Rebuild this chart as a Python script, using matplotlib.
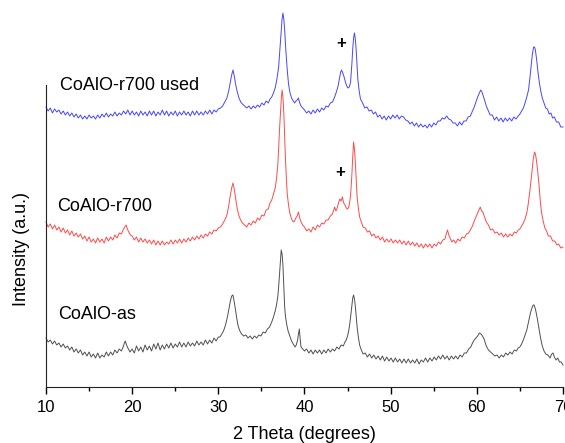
import matplotlib
matplotlib.use('Agg')
import matplotlib.pyplot as plt

plt.rcParams['font.family'] = ['Liberation Sans', 'DejaVu Sans']

# 2 Theta positions and intensities (a.u.) for each sample
used_x = [10.0, 10.25, 10.5, 10.75, 11.0, 11.25, 11.5, 11.75, 12.0, 12.25,
          12.5, 12.75, 13.0, 13.25, 13.5, 13.75, 14.0, 14.25, 14.5, 14.75,
          15.0, 15.25, 15.5, 15.75, 16.0, 16.25, 16.5, 16.75, 17.0, 17.25,
          17.5, 17.75, 18.0, 18.25, 18.5, 18.75, 19.0, 19.25, 19.5, 19.75,
          20.0, 20.25, 20.5, 20.75, 21.0, 21.25, 21.5, 21.75, 22.0, 22.25,
          22.5, 22.75, 23.0, 23.25, 23.5, 23.75, 24.0, 24.25, 24.5, 24.75,
          25.0, 25.25, 25.5, 25.75, 26.0, 26.25, 26.5, 26.75, 27.0, 27.25,
          27.5, 27.75, 28.0, 28.25, 28.5, 28.75, 29.0, 29.25, 29.5, 29.75,
          30.0, 30.25, 30.5, 30.75, 31.0, 31.2, 31.4, 31.55, 31.7, 31.85,
          32.0, 32.2, 32.4, 32.6, 32.8, 33.05, 33.3, 33.55, 33.8, 34.05,
          34.3, 34.55, 34.8, 35.05, 35.3, 35.55, 35.8, 36.0, 36.2, 36.4,
          36.6, 36.8, 37.0, 37.15, 37.3, 37.4, 37.5, 37.6, 37.7, 37.85,
          38.0, 38.15, 38.3, 38.5, 38.7, 38.85, 39.0, 39.15, 39.3, 39.45,
          39.6, 39.8, 40.0, 40.25, 40.5, 40.75, 41.0, 41.25, 41.5, 41.75,
          42.0, 42.25, 42.5, 42.75, 43.0, 43.25, 43.5, 43.7, 43.9, 44.05,
          44.2, 44.3, 44.45, 44.6, 44.75, 44.9, 45.05, 45.2, 45.35, 45.5,
          45.6, 45.7, 45.8, 45.9, 46.0, 46.1, 46.2, 46.35, 46.5, 46.75,
          47.0, 47.25, 47.5, 47.75, 48.0, 48.25, 48.5, 48.75, 49.0, 49.25,
          49.5, 49.75, 50.0, 50.25, 50.5, 50.75, 51.0, 51.25, 51.5, 51.75,
          52.0, 52.25, 52.5, 52.75, 53.0, 53.25, 53.5, 53.75, 54.0, 54.25,
          54.5, 54.75, 55.0, 55.25, 55.5, 55.75, 56.0, 56.25, 56.5, 56.75,
          57.0, 57.25, 57.5, 57.75, 58.0, 58.25, 58.5, 58.75, 59.0, 59.25,
          59.5, 59.7, 59.9, 60.1, 60.3, 60.45, 60.6, 60.75, 60.9, 61.1,
          61.3, 61.55, 61.8, 62.05, 62.3, 62.55, 62.8, 63.05, 63.3, 63.55,
          63.8, 64.05, 64.3, 64.55, 64.8, 65.0, 65.2, 65.4, 65.6, 65.8,
          66.0, 66.15, 66.3, 66.45, 66.6, 66.7, 66.8, 66.95, 67.1, 67.25,
          67.4, 67.6, 67.8, 68.0, 68.2, 68.4, 68.6, 68.8, 69.0, 69.25,
          69.5, 69.75, 70.0]
used_y = [280, 276, 279, 274, 278, 275, 277, 273, 276, 272,
          275, 271, 274, 270, 273, 269, 272, 268, 271, 268,
          272, 269, 271, 268, 272, 269, 273, 270, 274, 270,
          273, 271, 275, 271, 274, 272, 276, 273, 277, 272,
          276, 272, 275, 271, 276, 272, 275, 271, 276, 272,
          276, 271, 275, 272, 277, 272, 276, 271, 275, 272,
          276, 271, 275, 272, 276, 272, 275, 271, 276, 272,
          276, 272, 275, 272, 276, 273, 277, 273, 277, 275,
          278, 279, 281, 285, 289, 296, 305, 312, 317, 311,
          303, 295, 289, 285, 283, 281, 279, 281, 278, 281,
          279, 282, 280, 284, 282, 286, 284, 288, 290, 294,
          299, 308, 320, 338, 357, 368, 374, 368, 357, 335,
          317, 303, 295, 289, 286, 284, 286, 287, 289, 284,
          281, 279, 277, 274, 276, 273, 277, 274, 278, 275,
          279, 277, 281, 280, 284, 285, 290, 295, 301, 308,
          315, 317, 314, 310, 305, 301, 299, 300, 305, 323,
          338, 349, 354, 348, 337, 322, 307, 296, 288, 284,
          279, 280, 276, 277, 273, 275, 270, 272, 268, 271,
          267, 271, 268, 272, 269, 272, 268, 271, 270, 267,
          266, 263, 265, 261, 264, 260, 263, 260, 262, 259,
          263, 260, 264, 262, 266, 266, 269, 268, 271, 268,
          267, 264, 264, 261, 265, 262, 266, 266, 270, 271,
          276, 280, 285, 290, 294, 297, 295, 291, 287, 281,
          277, 272, 272, 267, 270, 266, 269, 265, 269, 266,
          269, 266, 270, 268, 271, 273, 276, 279, 284, 290,
          297, 308, 321, 333, 340, 340, 337, 327, 315, 305,
          297, 289, 284, 279, 278, 273, 274, 269, 270, 265,
          265, 260, 260]

r700_x = [10.0, 10.25, 10.5, 10.75, 11.0, 11.25, 11.5, 11.75, 12.0, 12.25,
          12.5, 12.75, 13.0, 13.25, 13.5, 13.75, 14.0, 14.25, 14.5, 14.75,
          15.0, 15.25, 15.5, 15.75, 16.0, 16.25, 16.5, 16.75, 17.0, 17.25,
          17.5, 17.75, 18.0, 18.25, 18.5, 18.75, 19.0, 19.15, 19.3, 19.45,
          19.6, 19.8, 20.0, 20.25, 20.5, 20.75, 21.0, 21.25, 21.5, 21.75,
          22.0, 22.25, 22.5, 22.75, 23.0, 23.25, 23.5, 23.75, 24.0, 24.25,
          24.5, 24.75, 25.0, 25.25, 25.5, 25.75, 26.0, 26.25, 26.5, 26.75,
          27.0, 27.25, 27.5, 27.75, 28.0, 28.25, 28.5, 28.75, 29.0, 29.25,
          29.5, 29.75, 30.0, 30.25, 30.5, 30.75, 31.0, 31.2, 31.4, 31.55,
          31.7, 31.85, 32.0, 32.2, 32.4, 32.6, 32.8, 33.05, 33.3, 33.55,
          33.8, 34.05, 34.3, 34.55, 34.8, 35.05, 35.3, 35.55, 35.8, 36.0,
          36.2, 36.4, 36.6, 36.75, 36.9, 37.0, 37.1, 37.2, 37.3, 37.4,
          37.5, 37.6, 37.7, 37.8, 37.9, 38.0, 38.15, 38.3, 38.5, 38.7,
          38.85, 39.0, 39.15, 39.3, 39.45, 39.6, 39.8, 40.0, 40.25, 40.5,
          40.75, 41.0, 41.25, 41.5, 41.75, 42.0, 42.25, 42.5, 42.75, 43.0,
          43.25, 43.5, 43.65, 43.8, 43.95, 44.1, 44.25, 44.4, 44.55, 44.7,
          44.85, 45.0, 45.15, 45.3, 45.4, 45.5, 45.6, 45.7, 45.8, 45.9,
          46.0, 46.1, 46.25, 46.4, 46.6, 46.8, 47.05, 47.3, 47.55, 47.8,
          48.05, 48.3, 48.55, 48.8, 49.05, 49.3, 49.55, 49.8, 50.05, 50.3,
          50.55, 50.8, 51.05, 51.3, 51.55, 51.8, 52.05, 52.3, 52.55, 52.8,
          53.05, 53.3, 53.55, 53.8, 54.05, 54.3, 54.55, 54.8, 55.05, 55.3,
          55.55, 55.8, 56.05, 56.3, 56.45, 56.6, 56.75, 56.9, 57.1, 57.3,
          57.55, 57.8, 58.05, 58.3, 58.55, 58.8, 59.05, 59.3, 59.5, 59.7,
          59.85, 60.0, 60.2, 60.4, 60.55, 60.7, 60.9, 61.1, 61.35, 61.6,
          61.85, 62.1, 62.35, 62.6, 62.85, 63.1, 63.35, 63.6, 63.85, 64.1,
          64.35, 64.6, 64.8, 65.0, 65.2, 65.4, 65.6, 65.8, 65.95, 66.1,
          66.25, 66.4, 66.55, 66.7, 66.8, 66.9, 67.05, 67.2, 67.35, 67.5,
          67.7, 67.9, 68.1, 68.3, 68.55, 68.8, 69.05, 69.3, 69.5, 69.75,
          70.0]
r700_y = [165, 160, 163, 158, 162, 157, 160, 155, 159, 154,
          157, 152, 156, 151, 154, 150, 153, 148, 151, 146,
          150, 145, 148, 144, 149, 145, 148, 144, 150, 146,
          150, 147, 152, 149, 154, 153, 158, 160, 162, 158,
          155, 152, 151, 147, 150, 145, 149, 145, 148, 144,
          147, 143, 147, 142, 146, 142, 146, 142, 145, 143,
          147, 143, 147, 144, 148, 144, 148, 145, 149, 146,
          150, 147, 151, 148, 152, 149, 153, 151, 155, 153,
          157, 156, 159, 160, 163, 167, 172, 181, 192, 199,
          204, 198, 189, 178, 171, 167, 164, 162, 160, 164,
          162, 166, 164, 169, 167, 172, 171, 177, 178, 184,
          187, 193, 199, 208, 222, 238, 257, 273, 287, 297,
          290, 274, 250, 227, 208, 193, 182, 174, 168, 165,
          166, 169, 171, 175, 169, 165, 162, 160, 156, 158,
          155, 160, 157, 162, 160, 164, 163, 167, 167, 171,
          173, 180, 176, 179, 184, 188, 186, 190, 184, 182,
          179, 178, 180, 188, 198, 212, 230, 245, 238, 225,
          207, 191, 179, 170, 165, 160, 159, 155, 156, 151,
          153, 149, 151, 147, 150, 145, 148, 145, 148, 144,
          147, 144, 147, 143, 146, 142, 146, 142, 145, 141,
          144, 140, 143, 139, 143, 140, 143, 139, 143, 141,
          145, 143, 147, 148, 153, 157, 152, 149, 145, 147,
          144, 148, 146, 150, 149, 153, 154, 158, 161, 166,
          169, 172, 176, 180, 176, 175, 170, 165, 162, 157,
          158, 154, 155, 152, 154, 150, 153, 150, 153, 151,
          155, 154, 157, 158, 161, 164, 168, 174, 182, 192,
          203, 215, 228, 235, 233, 228, 217, 204, 188, 175,
          166, 159, 156, 151, 151, 146, 146, 142, 143, 139,
          140]

as_x = [10.0, 10.25, 10.5, 10.75, 11.0, 11.25, 11.5, 11.75, 12.0, 12.25,
        12.5, 12.75, 13.0, 13.25, 13.5, 13.75, 14.0, 14.25, 14.5, 14.75,
        15.0, 15.25, 15.5, 15.75, 16.0, 16.25, 16.5, 16.75, 17.0, 17.25,
        17.5, 17.75, 18.0, 18.25, 18.5, 18.75, 19.0, 19.1, 19.2, 19.35,
        19.5, 19.75, 20.0, 20.25, 20.5, 20.75, 21.0, 21.25, 21.5, 21.75,
        22.0, 22.25, 22.5, 22.75, 23.0, 23.25, 23.5, 23.75, 24.0, 24.25,
        24.5, 24.75, 25.0, 25.25, 25.5, 25.75, 26.0, 26.25, 26.5, 26.75,
        27.0, 27.25, 27.5, 27.75, 28.0, 28.25, 28.5, 28.75, 29.0, 29.25,
        29.5, 29.75, 30.0, 30.2, 30.4, 30.6, 30.8, 30.95, 31.1, 31.25,
        31.4, 31.55, 31.7, 31.85, 32.0, 32.15, 32.3, 32.5, 32.7, 32.95,
        33.2, 33.45, 33.7, 33.95, 34.2, 34.45, 34.7, 34.95, 35.2, 35.45,
        35.7, 35.95, 36.2, 36.4, 36.6, 36.75, 36.9, 37.0, 37.1, 37.2,
        37.3, 37.4, 37.5, 37.6, 37.7, 37.8, 37.95, 38.1, 38.3, 38.5,
        38.7, 38.9, 39.05, 39.2, 39.3, 39.4, 39.5, 39.6, 39.8, 40.0,
        40.25, 40.5, 40.75, 41.0, 41.25, 41.5, 41.75, 42.0, 42.25, 42.5,
        42.75, 43.0, 43.25, 43.5, 43.75, 44.0, 44.25, 44.5, 44.7, 44.85,
        45.0, 45.15, 45.3, 45.4, 45.5, 45.6, 45.7, 45.8, 45.9, 46.0,
        46.1, 46.25, 46.4, 46.6, 46.8, 47.05, 47.3, 47.55, 47.8, 48.05,
        48.3, 48.55, 48.8, 49.05, 49.3, 49.55, 49.8, 50.05, 50.3, 50.55,
        50.8, 51.05, 51.3, 51.55, 51.8, 52.05, 52.3, 52.55, 52.8, 53.05,
        53.3, 53.55, 53.8, 54.05, 54.3, 54.55, 54.8, 55.05, 55.3, 55.55,
        55.8, 56.05, 56.3, 56.55, 56.8, 57.05, 57.3, 57.55, 57.8, 58.05,
        58.3, 58.55, 58.8, 59.05, 59.3, 59.5, 59.7, 59.9, 60.1, 60.3,
        60.5, 60.65, 60.8, 60.95, 61.1, 61.35, 61.6, 61.85, 62.1, 62.35,
        62.6, 62.85, 63.1, 63.35, 63.6, 63.85, 64.1, 64.35, 64.6, 64.8,
        65.0, 65.2, 65.4, 65.6, 65.8, 65.95, 66.1, 66.25, 66.4, 66.55,
        66.65, 66.8, 66.9, 67.05, 67.2, 67.4, 67.6, 67.8, 68.0, 68.25,
        68.5, 68.7, 68.85, 69.0, 69.2, 69.4, 69.6, 69.8, 70.0]
as_y = [49, 45, 47, 43, 46, 42, 44, 40, 43, 39,
        41, 37, 40, 35, 38, 34, 37, 32, 35, 31,
        35, 30, 33, 29, 34, 29, 32, 30, 35, 31,
        35, 32, 37, 34, 38, 36, 41, 44, 46, 42,
        39, 35, 38, 34, 41, 36, 40, 35, 42, 37,
        41, 36, 43, 38, 44, 37, 42, 38, 43, 39,
        44, 39, 43, 40, 45, 40, 44, 40, 45, 41,
        44, 41, 46, 42, 45, 42, 47, 43, 47, 44,
        49, 46, 50, 50, 53, 56, 61, 66, 72, 79,
        86, 91, 92, 85, 77, 68, 61, 56, 53, 51,
        52, 49, 51, 48, 51, 49, 52, 51, 55, 54,
        58, 60, 65, 70, 76, 82, 90, 100, 112, 125,
        137, 133, 122, 100, 80, 70, 62, 56, 51, 46,
        43, 40, 42, 47, 53, 58, 48, 40, 38, 36,
        38, 34, 37, 33, 37, 34, 37, 33, 37, 34,
        38, 35, 38, 36, 40, 38, 42, 41, 45, 47,
        51, 57, 66, 74, 82, 89, 92, 88, 81, 71,
        61, 50, 42, 37, 33, 34, 30, 33, 29, 32,
        28, 31, 27, 31, 26, 30, 26, 29, 25, 29,
        25, 28, 24, 28, 24, 28, 24, 27, 24, 28,
        23, 27, 25, 29, 25, 29, 26, 30, 27, 31,
        28, 32, 28, 31, 27, 31, 28, 31, 28, 32,
        30, 34, 34, 38, 40, 44, 47, 49, 51, 54,
        53, 51, 49, 45, 41, 37, 35, 33, 31, 32,
        29, 32, 30, 34, 32, 35, 33, 37, 36, 39,
        40, 43, 47, 52, 57, 63, 69, 75, 79, 82,
        82, 78, 74, 67, 59, 49, 41, 36, 33, 32,
        29, 33, 34, 30, 27, 29, 25, 25, 22]

labels = ['CoAlO-r700 used', 'CoAlO-r700', 'CoAlO-as']
# peaks marked with "+" (2 Theta, intensity)
plus_x = [44.3, 44.1]
plus_y = [344, 215]

fig = plt.figure(figsize=(5.65, 4.43), dpi=100)
ax = fig.add_axes([0.0814, 0.1264, 0.915, 0.6817])

ax.plot(used_x, used_y, color='#4646ff', lw=0.7, clip_on=False)
ax.plot(r700_x, r700_y, color='#ff4a4a', lw=0.7, clip_on=False)
ax.plot(as_x, as_y, color='#505050', lw=0.7, clip_on=False)

ax.text(11.6, 302, labels[0], fontsize=13, va='center', clip_on=False)
ax.text(11.3, 181, labels[1], fontsize=13, va='center')
ax.text(11.4, 73, labels[2], fontsize=13, va='center')
for px, py in zip(plus_x, plus_y):
    ax.text(px, py, '+', fontsize=12, fontweight='bold', ha='center', va='center', clip_on=False)

ax.set_xlim(10, 70)
ax.set_ylim(0, 302)
ax.set_xticks([10, 20, 30, 40, 50, 60, 70])
ax.set_xticks([15, 25, 35, 45, 55, 65], minor=True)
ax.set_yticks([])
ax.tick_params(axis='x', which='major', length=5, width=1, labelsize=12, pad=4)
ax.tick_params(axis='x', which='minor', length=3, width=1)
for s in ['top', 'right']:
    ax.spines[s].set_visible(False)
ax.spines['left'].set_color('#222222')
ax.spines['bottom'].set_color('#222222')

ax.set_xlabel('2 Theta (degrees)', fontsize=13, labelpad=8)
ax.set_ylabel('Intensity (a.u.)', fontsize=13)
ax.yaxis.set_label_coords(-0.031, 0.457)

fig.savefig('out.png', dpi=100)
